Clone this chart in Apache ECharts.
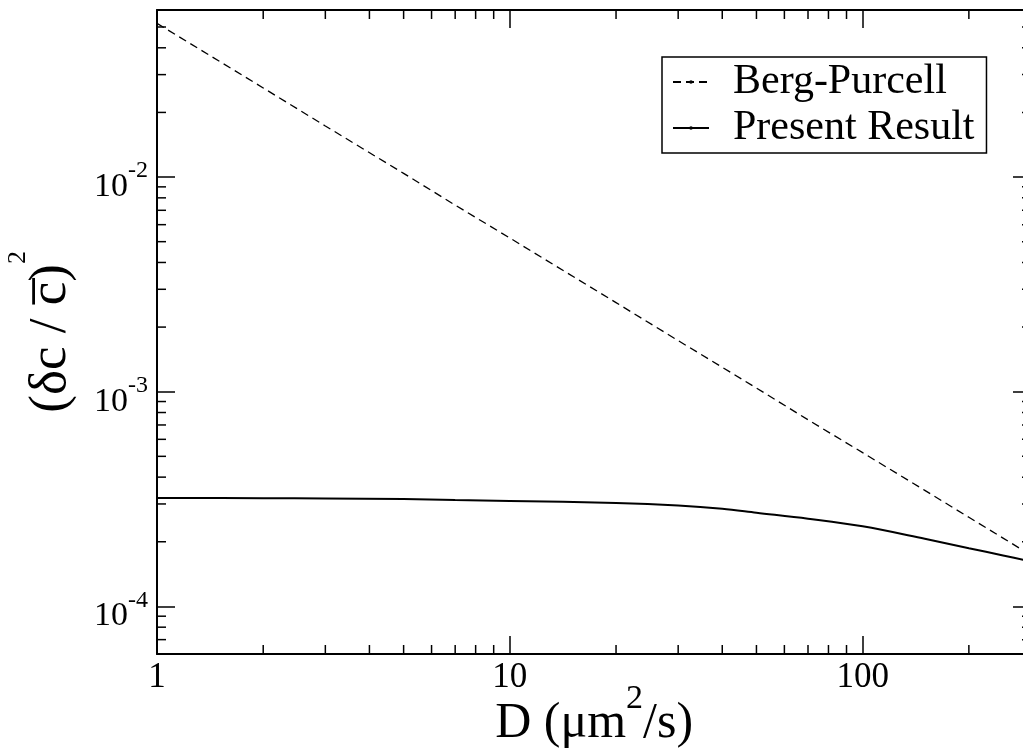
<!DOCTYPE html>
<html>
<head>
<meta charset="utf-8">
<script src="https://cdn.jsdelivr.net/npm/echarts@6/dist/echarts.min.js"></script>
<style>
html, body { margin: 0; padding: 0; background: #fff; }
#chart { width: 1023px; height: 753px; }
</style>
</head>
<body>
<div id="chart"></div>
<script>
// D values (um^2/s) where the curves were read
const dValues = [1, 2, 3, 5, 7, 10, 20, 30, 40, 50, 70, 100, 150, 200, 250, 300];
// dashed line, Berg-Purcell limit
const bergPurcell = [0.052, 0.026, 0.0173, 0.0104, 0.0074, 0.0052, 0.0026, 0.00173, 0.0013, 0.00104, 0.00074, 0.00052, 0.000347, 0.00026, 0.000208, 0.000173];
// solid line, present result
const presentResult = [3.2e-4, 3.19e-4, 3.18e-4, 3.16e-4, 3.13e-4, 3.1e-4, 3.03e-4, 2.95e-4, 2.85e-4, 2.73e-4, 2.56e-4, 2.36e-4, 2.065e-4, 1.867e-4, 1.727e-4, 1.62e-4];

const xLabels = ['1', '10', '100'];
const yExponents = [-4, -3, -2];

const X_MIN = 1, X_MAX = 300;
const Y_MIN = 6e-5, Y_MAX = 0.06;
const MAJOR_LEN = 18, MINOR_LEN = 9;
const FONT = '"Liberation Serif", "Times New Roman", serif';

//minor ticks at 2..9 of every decade inside the range
function minorTicks(min, max) {
    const out = [];
    for (let e = Math.floor(Math.log10(min)); e <= Math.ceil(Math.log10(max)); e++) {
        for (let m = 2; m <= 9; m++) {
            const v = m * Math.pow(10, e);
            if (v >= min * 0.999 && v <= max * 1.001) out.push(v);
        }
    }
    return out;
}

function isPow10(v) {
    const e = Math.log10(v);
    return Math.abs(e - Math.round(e)) < 1e-6;
}

function tickLine(a, b) {
    return { type: 'line', shape: { x1: a[0], y1: a[1], x2: b[0], y2: b[1] }, style: { stroke: '#000', lineWidth: 1.5 } };
}

// rich styles: main text sits on the bottom, superscript hangs from the top,
// an empty spacer token sets the line height
function richStyles(mainSize, supSize, lineH) {
    return {
        n: { fontFamily: FONT, fontSize: mainSize, color: '#000', verticalAlign: 'bottom', lineHeight: mainSize },
        sup: { fontFamily: FONT, fontSize: supSize, color: '#000', verticalAlign: 'top', lineHeight: supSize },
        sp: { fontSize: 1, lineHeight: lineH, verticalAlign: 'top' }
    };
}

const chart = echarts.init(document.getElementById('chart'));

const axisBase = {
    type: 'log',
    logBase: 10,
    nameMoveOverlap: false,
    axisLine: { show: true, lineStyle: { color: '#000', width: 2 } },
    axisTick: { show: true, inside: true, length: MAJOR_LEN, lineStyle: { color: '#000', width: 1.5 } },
    splitLine: { show: false },
    minorTick: { show: false },
};

const option = {
    animation: false,
    backgroundColor: '#fff',
    grid: { left: 157, top: 10, right: -8, bottom: 99, containLabel: false, outerBoundsMode: 'none' },
    legend: {
        data: ['Berg-Purcell', 'Present Result'],
        orient: 'vertical',
        left: 662,
        top: 57,
        padding: [2, 12, 2, 10],
        itemGap: 0,
        itemWidth: 36,
        itemHeight: 2,
        borderColor: '#000',
        borderWidth: 1.5,
        borderRadius: 0,
        textStyle: { fontFamily: FONT, fontSize: 42, color: '#000', lineHeight: 46, padding: [0, 0, 0, 19] }
    },
    xAxis: [
        Object.assign({}, axisBase, {
            position: 'bottom',
            min: X_MIN, max: X_MAX,
            name: '{sp| }{n|D (μm}{sup|2}{n|/s)}',
            nameLocation: 'middle',
            nameGap: 28,
            nameTextStyle: { rich: richStyles(50, 34, 67) },
            axisLabel: {
                margin: 6,
                fontFamily: FONT, fontSize: 35, color: '#000',
                formatter: v => isPow10(v) && xLabels.includes(String(Math.round(v))) ? String(Math.round(v)) : ''
            }
        }),
        Object.assign({}, axisBase, {
            position: 'top',
            min: X_MIN, max: X_MAX,
            axisLabel: { show: false }
        })
    ],
    yAxis: [
        Object.assign({}, axisBase, {
            position: 'left',
            min: Y_MIN, max: Y_MAX,
            name: '{sp| }{n|(δc / c\u0305)}{sup|2}',
            nameLocation: 'middle',
            nameGap: 79,
            nameTextStyle: { rich: richStyles(53, 26, 73) },
            axisLabel: {
                margin: 9,
                fontFamily: FONT, fontSize: 34, color: '#000',
                padding: [9, 0, 0, 0],
                formatter: v => {
                    if (!isPow10(v)) return '';
                    const e = Math.round(Math.log10(v));
                    return yExponents.includes(e) ? '{sp| }{n|10}{sup|' + e + '}' : '';
                },
                rich: richStyles(34, 24, 45)
            }
        }),
        Object.assign({}, axisBase, {
            position: 'right',
            min: Y_MIN, max: Y_MAX,
            axisLabel: { show: false }
        })
    ],
    series: [
        {
            name: 'Berg-Purcell',
            type: 'line',
            data: dValues.map((d, i) => [d, bergPurcell[i]]),
            showSymbol: false,
            symbolSize: 0,
            lineStyle: { color: '#000', width: 1.3, type: [8, 5] },
            itemStyle: { color: '#000' },
            z: 3
        },
        {
            name: 'Present Result',
            type: 'line',
            data: dValues.map((d, i) => [d, presentResult[i]]),
            showSymbol: false,
            symbolSize: 0,
            smooth: 0.35,
            lineStyle: { color: '#000', width: 2, type: 'solid' },
            itemStyle: { color: '#000' },
            z: 3
        },
        {
            // minor ticks on the bottom and top axes
            type: 'custom',
            silent: true,
            clip: false,
            data: minorTicks(X_MIN, X_MAX).map(v => [v, Y_MIN]),
            renderItem: (params, api) => {
                const b = api.coord([api.value(0), Y_MIN]);
                const t = api.coord([api.value(0), Y_MAX]);
                return { type: 'group', children: [
                    tickLine(b, [b[0], b[1] - MINOR_LEN]),
                    tickLine(t, [t[0], t[1] + MINOR_LEN])
                ] };
            }
        },
        {
            // minor ticks on the left and right axes
            type: 'custom',
            silent: true,
            clip: false,
            data: minorTicks(Y_MIN, Y_MAX).map(v => [X_MIN, v]),
            renderItem: (params, api) => {
                const l = api.coord([X_MIN, api.value(1)]);
                const r = api.coord([X_MAX, api.value(1)]);
                return { type: 'group', children: [
                    tickLine(l, [l[0] + MINOR_LEN, l[1]]),
                    tickLine(r, [r[0] - MINOR_LEN, r[1]])
                ] };
            }
        }
    ]
};

chart.setOption(option);
window.addEventListener('resize', () => { chart.resize(); });
</script>
</body>
</html>
